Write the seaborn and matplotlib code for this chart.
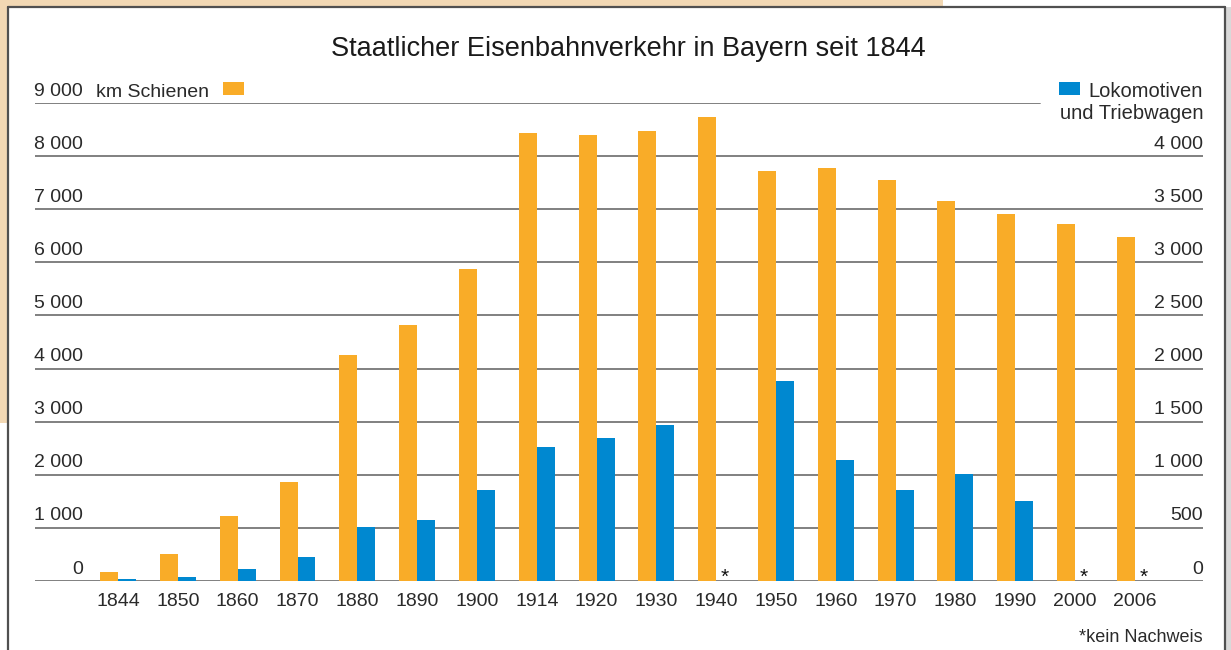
import numpy as np
import pandas as pd
import matplotlib
matplotlib.use("Agg")
import matplotlib.pyplot as plt
import matplotlib.transforms as mtrans
from matplotlib.patches import Rectangle
from matplotlib.lines import Line2D
import seaborn as sns

# data
years = ["1844", "1850", "1860", "1870", "1880", "1890", "1900", "1914", "1920",
         "1930", "1940", "1950", "1960", "1970", "1980", "1990", "2000", "2006"]
km_schienen = [170, 510, 1220, 1860, 4250, 4815, 5870, 8435, 8400,
               8475, 8740, 7720, 7780, 7550, 7155, 6910, 6720, 6480]
lokomotiven = [20, 38, 110, 223, 506, 572, 854, 1259, 1344,
               1466, np.nan, 1880, 1137, 854, 1005, 750, np.nan, np.nan]
left_ticks = [0, 1000, 2000, 3000, 4000, 5000, 6000, 7000, 8000, 9000]
right_ticks = [0, 500, 1000, 1500, 2000, 2500, 3000, 3500, 4000]

series = ["km", "lok"]
orange = "#F9AC28"
blue = "#0088D0"
text_col = "#2a2a2a"
grid_col = "#808080"

W, H = 1231, 650

def fx(x):
    return x / W

def fy(y):
    return 1 - y / H

def fmt(v):
    return f"{v:,}".replace(",", " ")

# each axis gets both hue levels so seaborn dodges the pair of bars;
# the other series is left empty on that axis
empty = [np.nan] * len(years)
df_left = pd.DataFrame({"year": years * 2, "value": km_schienen + empty,
                        "series": ["km"] * len(years) + ["lok"] * len(years)})
df_right = pd.DataFrame({"year": years * 2, "value": empty + lokomotiven,
                         "series": ["km"] * len(years) + ["lok"] * len(years)})

sns.set_style("white")
plt.rcParams["font.family"] = ["Liberation Sans", "DejaVu Sans"]

fig = plt.figure(figsize=(W / 100, H / 100), dpi=100)
fig.patch.set_facecolor("white")

# scanned page edge
fig.add_artist(Rectangle((0, fy(7)), fx(943), 7 / H, transform=fig.transFigure,
                         facecolor="#F2D8B4", edgecolor="none", zorder=0))
fig.add_artist(Rectangle((0, fy(423)), fx(8), 423 / H, transform=fig.transFigure,
                         facecolor="#F2D8B4", edgecolor="none", zorder=0))
fig.add_artist(Rectangle((fx(1226), 0), fx(5), fy(7), transform=fig.transFigure,
                         facecolor="#D9D9D9", edgecolor="none", zorder=0))
for xs, ys in [([fx(8), fx(1225)], [fy(6.5), fy(6.5)]),
               ([fx(8), fx(8)], [fy(6.5), 0]),
               ([fx(1225), fx(1225)], [fy(6.5), 0])]:
    fig.add_artist(Line2D(xs, ys, transform=fig.transFigure, color="#505050", lw=1.6))

ax = fig.add_axes([fx(35), fy(581), fx(1203 - 35), (581 - 103) / H])
ax2 = ax.twinx()

sns.barplot(data=df_left, x="year", y="value", hue="series",
            order=years, hue_order=series, palette=[orange, blue], width=0.6,
            saturation=1, linewidth=0, legend=False, ax=ax, zorder=3)
sns.barplot(data=df_right, x="year", y="value", hue="series",
            order=years, hue_order=series, palette=[orange, blue], width=0.6,
            saturation=1, linewidth=0, legend=False, ax=ax2, zorder=3)

ax.set_ylim(0, 9000)
ax2.set_ylim(0, 4500)
ax.set_xlim(-1.39, 18.14)
for a in (ax, ax2):
    a.set_xlabel("")
    a.set_ylabel("")
    a.set_yticks([])
    for s in a.spines.values():
        s.set_visible(False)
    a.patch.set_visible(False)

ax.tick_params(axis="x", length=0, pad=9, labelsize=14, labelcolor=text_col)

# gridlines
for v in left_ticks[:-1]:
    ax.axhline(v, color=grid_col, lw=1.4, zorder=1)
ax.axhline(9000, xmax=(1040 - 35) / (1203 - 35), color=grid_col, lw=1.4, zorder=1)

# tick labels above the lines
tl = mtrans.blended_transform_factory(ax.transAxes, ax.transData)
lx = (83 - 35) / (1203 - 35)
off = mtrans.offset_copy(tl, fig=fig, x=0, y=2.5, units="points")
for v in left_ticks:
    ax.text(lx, v, fmt(v), transform=off, ha="right", va="bottom",
            fontsize=14, color=text_col)
tr = mtrans.blended_transform_factory(ax2.transAxes, ax2.transData)
off2 = mtrans.offset_copy(tr, fig=fig, x=0, y=2.5, units="points")
for v in right_ticks:
    ax2.text(1.0, v, fmt(v), transform=off2, ha="right", va="bottom",
             fontsize=14, color=text_col)

# missing values
ast = mtrans.offset_copy(ax.transData, fig=fig, x=0, y=-1.5, units="points")
for i, v in enumerate(lokomotiven):
    if np.isnan(v):
        ax.text(i + 0.15, 0, "*", transform=ast, ha="center", va="baseline",
                fontsize=15, color="#111")

# legend keys
fig.text(fx(96), fy(97), "km Schienen", ha="left", va="baseline",
         fontsize=14, color=text_col)
fig.add_artist(Rectangle((fx(223), fy(95)), fx(21), 13 / H, transform=fig.transFigure,
                         facecolor=orange, edgecolor="none"))
fig.add_artist(Rectangle((fx(1059), fy(95)), fx(21), 13 / H, transform=fig.transFigure,
                         facecolor=blue, edgecolor="none"))
fig.text(fx(1203), fy(97), "Lokomotiven", ha="right", va="baseline",
         fontsize=14.5, color=text_col)
fig.text(fx(1203), fy(119), "und Triebwagen", ha="right", va="baseline",
         fontsize=14.5, color=text_col)

fig.text(fx(628), fy(49), "Staatlicher Eisenbahnverkehr in Bayern seit 1844",
         ha="center", va="center", fontsize=19.5, color="#1a1a1a")
fig.text(fx(1203), fy(637), "*kein Nachweis", ha="right", va="center",
         fontsize=13, color=text_col)

fig.savefig("out.png", dpi=100)
